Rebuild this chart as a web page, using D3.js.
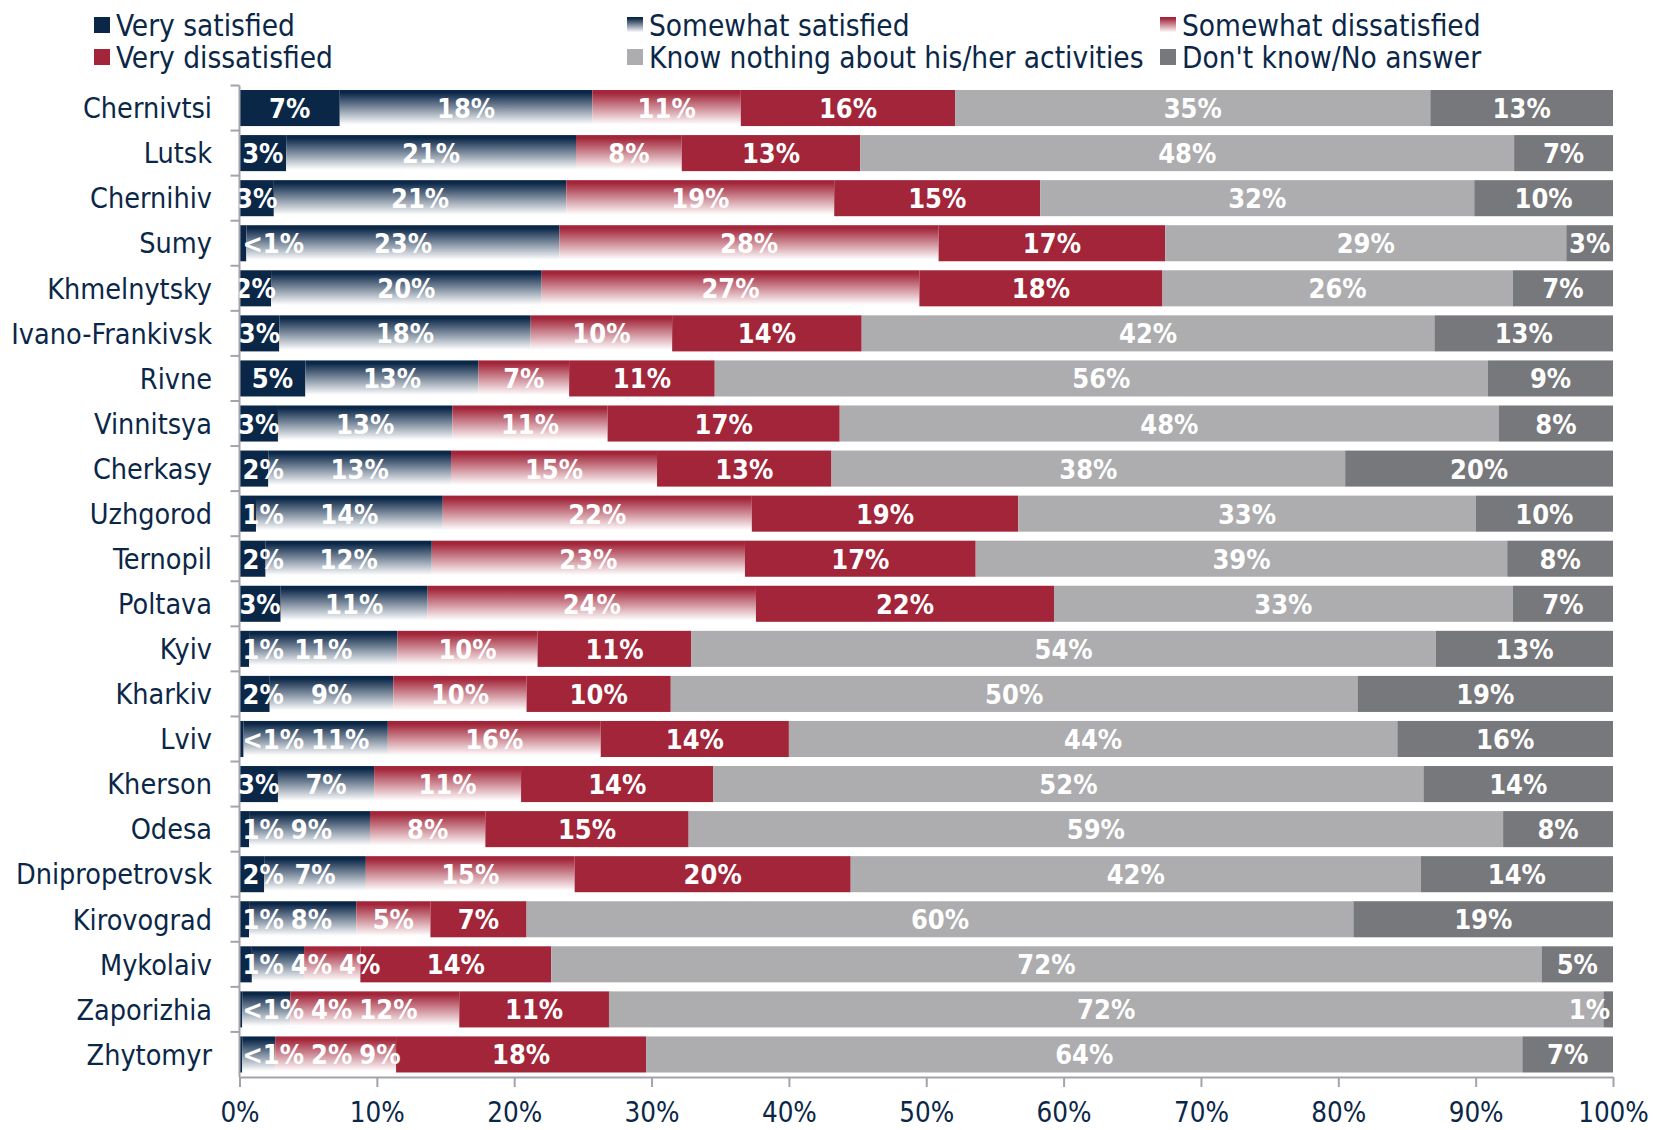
<!DOCTYPE html>
<html>
<head>
<meta charset="utf-8">
<script src="https://cdn.jsdelivr.net/npm/d3@7"></script>
<style>
  html, body { margin: 0; padding: 0; background: #ffffff; }
  svg text { font-family: 'DejaVu Sans Condensed', 'DejaVu Sans', sans-serif; font-stretch: condensed; }
</style>
</head>
<body>
<svg id="chart" width="1653" height="1130"></svg>
<script>
// ---- data ----
const categories = ["Chernivtsi","Lutsk","Chernihiv","Sumy","Khmelnytsky","Ivano-Frankivsk","Rivne","Vinnitsya","Cherkasy","Uzhgorod","Ternopil","Poltava","Kyiv","Kharkiv","Lviv","Kherson","Odesa","Dnipropetrovsk","Kirovograd","Mykolaiv","Zaporizhia","Zhytomyr"];

const seriesNames = ["Very satisfied","Somewhat satisfied","Somewhat dissatisfied","Very dissatisfied","Know nothing about his/her activities","Don't know/No answer"];

const verySatisfied = [7.3,3.4,2.5,0.5,2.3,2.9,4.8,2.8,2.1,1.2,1.9,3.0,0.7,2.2,0.3,2.8,0.7,1.8,0.7,0.9,0.2,0.2];
const somewhatSatisfied = [18.4,21.1,21.3,22.8,19.7,18.3,12.6,12.7,13.3,13.6,12.1,10.7,10.8,9.0,10.5,7.0,8.8,7.4,7.8,3.8,3.5,2.4];
const somewhatDissatisfied = [10.8,7.7,19.5,27.6,27.5,10.3,6.6,11.3,15.0,22.5,22.8,23.9,10.2,9.7,15.5,10.7,8.4,15.2,5.4,4.1,12.3,8.8];
const veryDissatisfied = [15.6,13.0,15.0,16.5,17.7,13.8,10.6,16.9,12.7,19.4,16.8,21.7,11.2,10.5,13.7,14.0,14.8,20.1,7.0,13.9,10.9,18.2];
const knowNothing = [34.6,47.6,31.6,29.2,25.5,41.7,56.3,48.0,37.4,33.3,38.7,33.4,54.2,50.0,44.3,51.7,59.3,41.5,60.2,72.1,72.4,63.8];
const dontKnow = [13.3,7.2,10.1,3.4,7.3,13.0,9.1,8.3,19.5,10.0,7.7,7.3,12.9,18.6,15.7,13.8,8.0,14.0,18.9,5.2,0.7,6.6];

const labelsVerySatisfied = ["7%","3%","3%","<1%","2%","3%","5%","3%","2%","1%","2%","3%","1%","2%","<1%","3%","1%","2%","1%","1%","<1%","<1%"];
const labelsSomewhatSatisfied = ["18%","21%","21%","23%","20%","18%","13%","13%","13%","14%","12%","11%","11%","9%","11%","7%","9%","7%","8%","4%","4%","2%"];
const labelsSomewhatDissatisfied = ["11%","8%","19%","28%","27%","10%","7%","11%","15%","22%","23%","24%","10%","10%","16%","11%","8%","15%","5%","4%","12%","9%"];
const labelsVeryDissatisfied = ["16%","13%","15%","17%","18%","14%","11%","17%","13%","19%","17%","22%","11%","10%","14%","14%","15%","20%","7%","14%","11%","18%"];
const labelsKnowNothing = ["35%","48%","32%","29%","26%","42%","56%","48%","38%","33%","39%","33%","54%","50%","44%","52%","59%","42%","60%","72%","72%","64%"];
const labelsDontKnow = ["13%","7%","10%","3%","7%","13%","9%","8%","20%","10%","8%","7%","13%","19%","16%","14%","8%","14%","19%","5%","1%","7%"];

const xTicks = [0,10,20,30,40,50,60,70,80,90,100];
const xTickLabels = ["0%","10%","20%","30%","40%","50%","60%","70%","80%","90%","100%"];

// ---- build table ----
const keys = ["vs","ss","sd","vd","kn","dk"];
const valueArrays = [verySatisfied, somewhatSatisfied, somewhatDissatisfied, veryDissatisfied, knowNothing, dontKnow];
const labelArrays = [labelsVerySatisfied, labelsSomewhatSatisfied, labelsSomewhatDissatisfied, labelsVeryDissatisfied, labelsKnowNothing, labelsDontKnow];
const table = categories.map((c, i) => {
  const row = { category: c, index: i };
  keys.forEach((k, j) => row[k] = valueArrays[j][i]);
  return row;
});

const navy = "#0b2748";
const crimson = "#a22539";
const lightGray = "#adadaf";
const darkGray = "#77787b";
const textColor = "#0b2748";
const axisColor = "#a3a3ab";

const svg = d3.select("#chart");
const defs = svg.append("defs");

function addGradient(id, color) {
  const g = defs.append("linearGradient").attr("id", id)
    .attr("x1", 0).attr("y1", 0).attr("x2", 0).attr("y2", 1);
  g.append("stop").attr("offset", "0%").attr("stop-color", color);
  g.append("stop").attr("offset", "8%").attr("stop-color", color);
  g.append("stop").attr("offset", "96%").attr("stop-color", "#ffffff");
  g.append("stop").attr("offset", "100%").attr("stop-color", "#ffffff");
}
addGradient("gradNavy", navy);
addGradient("gradRed", crimson);

const fills = [navy, "url(#gradNavy)", "url(#gradRed)", crimson, lightGray, darkGray];

const x0 = 239.5, x1 = 1613, yTop = 85.5, yBottom = 1077;
const x = d3.scaleLinear().domain([0, 100]).range([x0, x1]);
const y = d3.scaleBand().domain(categories).range([yTop, yBottom]).paddingInner(0.2).paddingOuter(0.1);

defs.append("clipPath").attr("id", "plotClip")
  .append("rect").attr("x", x0).attr("y", yTop).attr("width", x1 - x0).attr("height", yBottom - yTop);

const stacked = d3.stack().keys(keys)(table);

// bars
const layers = svg.append("g").selectAll("g").data(stacked).join("g")
  .attr("fill", (d, i) => fills[i]);
layers.selectAll("rect").data(d => d).join("rect")
  .attr("x", d => x(d[0]))
  .attr("y", d => y(d.data.category))
  .attr("width", d => x(d[1]) - x(d[0]))
  .attr("height", y.bandwidth());

// axes
const xAxis = svg.append("g").attr("transform", `translate(0,${yBottom})`)
  .call(d3.axisBottom(x).tickValues(xTicks).tickFormat((d, i) => xTickLabels[i]).tickSize(10).tickSizeOuter(0));
xAxis.select(".domain").attr("stroke", axisColor).attr("stroke-width", 2);
xAxis.selectAll(".tick line").attr("stroke", axisColor).attr("stroke-width", 2);
xAxis.selectAll(".tick text").attr("fill", textColor).attr("font-size", 27.5).attr("dy", null).attr("y", 45)
  .style("font-family", "'DejaVu Sans Condensed','DejaVu Sans',sans-serif");

// y axis: line + ticks at band boundaries
const yAxisG = svg.append("g");
yAxisG.append("line").attr("x1", x0).attr("x2", x0).attr("y1", yTop).attr("y2", yBottom)
  .attr("stroke", axisColor).attr("stroke-width", 2);
const step = y.step();
yAxisG.selectAll("line.tk").data(d3.range(categories.length)).join("line").attr("class", "tk")
  .attr("x1", x0 - 9).attr("x2", x0)
  .attr("y1", i => y(categories[i]) - (step - y.bandwidth()) / 2)
  .attr("y2", i => y(categories[i]) - (step - y.bandwidth()) / 2)
  .attr("stroke", axisColor).attr("stroke-width", 2);

// category labels
svg.append("g").selectAll("text").data(categories).join("text")
  .attr("x", 212)
  .attr("y", d => y(d) + y.bandwidth() / 2)
  .attr("dy", "0.36em")
  .attr("text-anchor", "end")
  .attr("font-size", 28.5)
  .attr("fill", textColor)
  .text(d => d);

// value labels
const labelG = svg.append("g").attr("clip-path", "url(#plotClip)");
table.forEach((row, i) => {
  let prevRight = -Infinity;
  const cy = y(row.category) + y.bandwidth() / 2;
  let acc = 0;
  keys.forEach((k, j) => {
    const start = acc, end = acc + row[k];
    acc = end;
    const t = labelG.append("text")
      .attr("y", cy).attr("dy", "0.37em")
      .attr("text-anchor", "middle")
      .attr("font-size", 27).attr("font-weight", "bold")
      .attr("fill", "#ffffff")
      .text(labelArrays[j][i]);
    const w = t.node().getComputedTextLength();
    let left = (x(start) + x(end)) / 2 - w / 2;
    if (left < x0 - 5) left = x0 + 3;
    if (left < prevRight + 7) left = prevRight + 7;
    if (left + w > x1 + 5) left = x1 - 3 - w;
    t.attr("x", left + w / 2);
    prevRight = left + w;
  });
});

// legend
const legendItems = [
  { name: seriesNames[0], fill: fills[0], col: 0, row: 0 },
  { name: seriesNames[1], fill: fills[1], col: 1, row: 0 },
  { name: seriesNames[2], fill: fills[2], col: 2, row: 0 },
  { name: seriesNames[3], fill: fills[3], col: 0, row: 1 },
  { name: seriesNames[4], fill: fills[4], col: 1, row: 1 },
  { name: seriesNames[5], fill: fills[5], col: 2, row: 1 }
];
const colX = [94, 627, 1160];
const rowY = [25, 57];
const lg = svg.append("g").selectAll("g").data(legendItems).join("g")
  .attr("transform", d => `translate(${colX[d.col]},${rowY[d.row]})`);
lg.append("rect").attr("x", 0).attr("y", -8).attr("width", 16).attr("height", 16).attr("fill", d => d.fill);
lg.append("text").attr("x", 22).attr("y", 0).attr("dy", "0.36em")
  .attr("font-size", 29.5).attr("fill", textColor).text(d => d.name);
</script>
</body>
</html>
